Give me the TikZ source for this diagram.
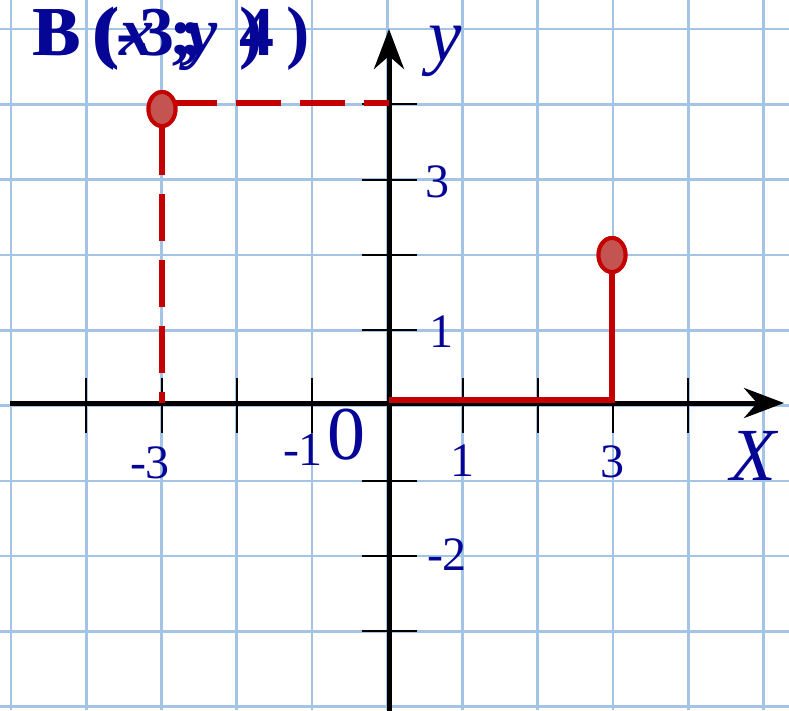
\documentclass[tikz,border=0pt]{standalone}
\usepackage{fontspec}
\setmainfont{Liberation Serif}
\usetikzlibrary{arrows.meta,shapes.geometric}
\definecolor{gridblue}{RGB}{163,196,228}
\definecolor{ptred}{RGB}{196,0,0}
\definecolor{ptfill}{RGB}{196,84,82}
\definecolor{lblue}{RGB}{5,5,150}
\begin{document}
\begin{tikzpicture}[x=1pt,y=-1pt,
  gridline/.style={gridblue,line width=2.6pt},
  axis/.style={black,line width=5pt,-{Stealth[length=40pt,width=30pt,inset=13pt]}},
  tick/.style={black,line width=2pt},
  redsolid/.style={ptred,line width=6pt,line join=miter},
  reddash/.style={ptred,line width=5.5pt,dash pattern=on 47pt off 19pt},
  reddashh/.style={ptred,line width=5.5pt,dash pattern=on 45pt off 19pt},
  pt/.style={ellipse,draw=ptred,fill=ptfill,line width=4pt,inner sep=0pt,minimum width=27pt,minimum height=34pt},
  num/.style={text=lblue,anchor=base,inner sep=0pt,font=\fontsize{48}{50}\selectfont},
  big/.style={text=lblue,anchor=base west,inner sep=0pt,font=\fontsize{75}{78}\selectfont\itshape},
  title/.style={text=lblue,anchor=base west,inner sep=0pt,font=\fontsize{70}{72}\selectfont\bfseries}]
\useasboundingbox (0,0) rectangle (789,710);
% grid
\foreach \k in {0,...,10} {\draw[gridline] ({11+75.25*\k},0) -- ({11+75.25*\k},710);}
\foreach \k in {0,...,9} {\draw[gridline] (0,{29+75.3*\k}) -- (789,{29+75.3*\k});}
% ticks
\foreach \xx in {86.25,161.5,236.75,312,462.5,537.75,613,688.25} {\draw[tick] (\xx,378) -- (\xx,433);}
\foreach \yy in {104,180,255,330,481,556,631} {\draw[tick] (362,\yy) -- (417,\yy);}
% axes
\coordinate (xs) at (10,403);
\coordinate (xe) at (784,403);
\coordinate (ys) at (389,712);
\coordinate (ye) at (389,29);
\draw[axis] (xs) -- (xe);
\draw[axis] (ys) -- (ye);
% points
\node[pt] (P1) at (162,109) {};
\node[pt] (P2) at (612,255) {};
\coordinate (o) at (389,400);
\coordinate (a) at (612,400);
\coordinate (b) at (162,403);
\coordinate (h0) at (172,103);
\coordinate (c) at (389,103);
\draw[redsolid] (o) -- (a) -- (P2.south);
\draw[reddash] (P1.south) -- (b);
\draw[reddashh] (h0) -- (c);
\node[pt] at (P1) {};
\node[pt] at (P2) {};
% labels
\node[num] (lm3) at (150,478) {-3};
\node[num] (lm1) at (303,465) {-1};
\node[num,font=\fontsize{76}{78}\selectfont] (l0) at (346,459) {0};
\node[num] (l1) at (462,476) {1};
\node[num] (l3) at (612,477) {3};
\node[num] (ly3) at (437,197) {3};
\node[num] (ly1) at (441,347) {1};
\node[num] (lym2) at (447,570) {-2};
\node[big] (ylab) at (428,60) {y};
\node[big] (xlab) at (730,480) {X};
% title (two overlapping strings)
\node[title] (t1) at (32,55) {\makebox[60pt][l]{B}\makebox[24pt][l]{(}\makebox[23pt][l]{-}\makebox[40pt][l]{3}\makebox[60pt][l]{;}\makebox[47pt][l]{4})};
\node[title] (t2) at (34,55) {\makebox[62pt][l]{B}\makebox[23pt][l]{(}\makebox[50pt][l]{\itshape x}\makebox[17pt][l]{;}\makebox[53pt][l]{\itshape y})};
\end{tikzpicture}
\end{document}
